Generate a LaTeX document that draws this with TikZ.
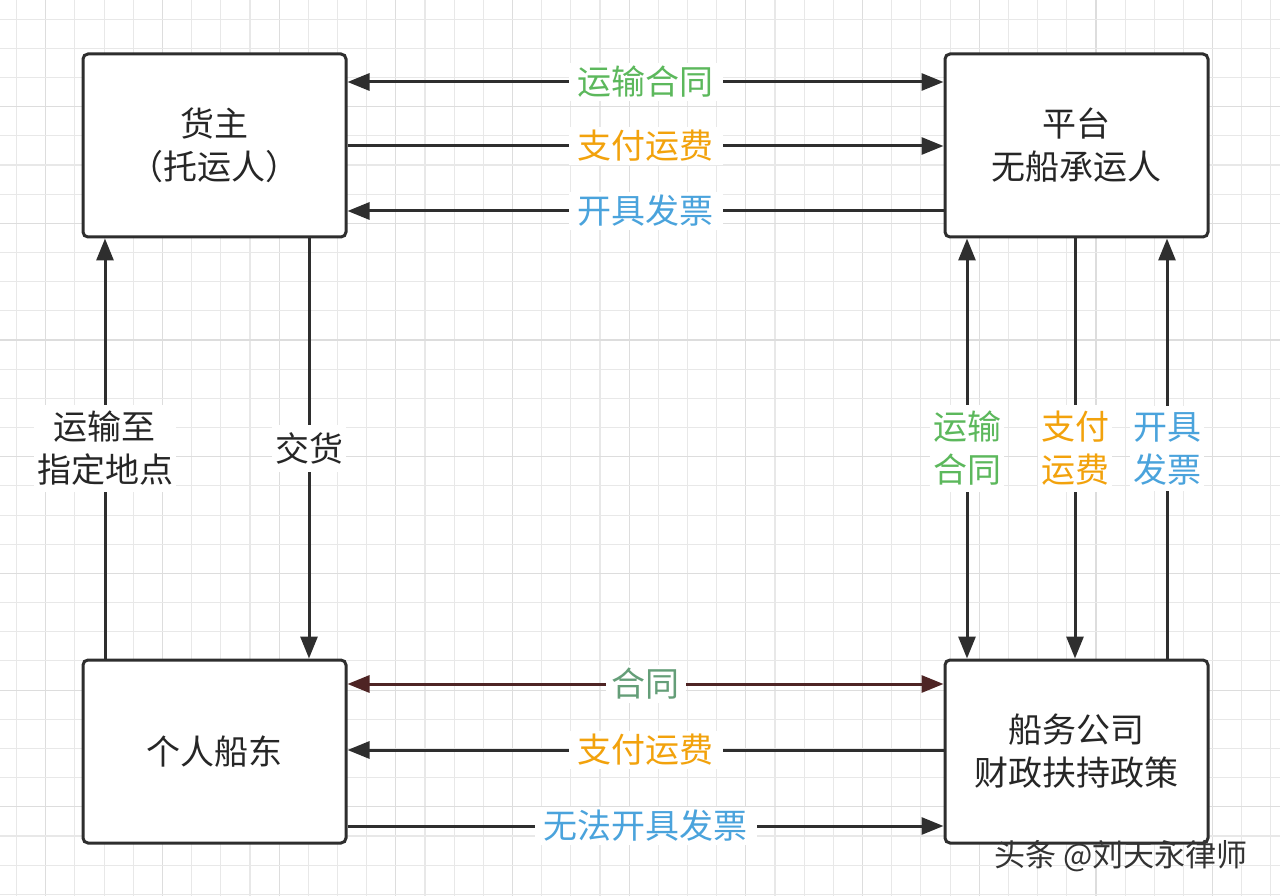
\documentclass[tikz,border=0pt]{standalone}
\usepackage{fontspec}
\setmainfont{Noto Sans CJK SC}
\usetikzlibrary{arrows.meta,calc}
\definecolor{lnc}{HTML}{2E2E2E}
\definecolor{gminor}{HTML}{E8E8E8}
\definecolor{gmajor}{HTML}{DDDDDD}
\definecolor{cgreen}{HTML}{5CB85C}
\definecolor{cgreen2}{HTML}{649E78}
\definecolor{corange}{HTML}{F2A20C}
\definecolor{cblue}{HTML}{4AA3DC}
\definecolor{cred}{HTML}{4E2424}
\tikzset{
  party/.style={draw=lnc, line width=3pt, rounded corners=5pt, fill=white,
    minimum width=263pt, minimum height=183pt, align=center,
    font=\fontsize{34}{43}\selectfont, text=black!85},
  link/.style={draw=lnc, line width=3pt},
  tipr/.style={-{Triangle[length=22pt,width=17pt]}},
  tipl/.style={{Triangle[length=22pt,width=17pt]}-},
  tipb/.style={{Triangle[length=22pt,width=17pt]}-{Triangle[length=22pt,width=17pt]}},
  lbl/.style={fill=white, inner xsep=9pt, inner ysep=3pt, align=center,
    font=\fontsize{34}{43}\selectfont},
}
\begin{document}
\begin{tikzpicture}[x=1pt,y=-1pt]
\useasboundingbox (0,0) rectangle (1280,896);
\fill[white] (0,0) rectangle (1280,896);
% grid
\foreach \i in {0,...,43} {
  \pgfmathtruncatemacro{\m}{mod(\i,4)}
  \ifnum\m=1 \draw[gmajor, line width=1.2pt] ({16.6+\i*29.17},0) -- ++(0,896);
  \else \draw[gminor, line width=1.1pt] ({16.6+\i*29.17},0) -- ++(0,896); \fi
}
\foreach \j in {0,...,30} {
  \pgfmathtruncatemacro{\m}{mod(\j,4)}
  \ifnum\m=3 \draw[gmajor, line width=1.2pt] (0,{19.2+\j*29.17}) -- ++(1280,0);
  \else \draw[gminor, line width=1.1pt] (0,{19.2+\j*29.17}) -- ++(1280,0); \fi
}
% boxes
\node[party] (A) at (214.5,145.5) {货主\\（托运人）};
\node[party] (B) at (1076.5,145.5) {平台\\无船承运人};
\node[party] (C) at (214.5,751.5) {个人船东};
\node[party] (D) at (1076.5,751.5) {船务公司\\财政扶持政策};
% top horizontal
\draw[link,tipb] (A.east |- 0,82) -- node[lbl,text=cgreen] {运输合同} (B.west |- 0,82);
\draw[link,tipr] (A.east |- 0,146) -- node[lbl,text=corange] {支付运费} (B.west |- 0,146);
\draw[link,tipl] (A.east |- 0,211) -- node[lbl,text=cblue] {开具发票} (B.west |- 0,211);
% bottom horizontal
\draw[link,draw=cred,tipb] (C.east |- 0,684) -- node[lbl,text=cgreen2,inner xsep=6pt] {合同} (D.west |- 0,684);
\draw[link,tipl] (C.east |- 0,750) -- node[lbl,text=corange] {支付运费} (D.west |- 0,750);
\draw[link,tipr] (C.east |- 0,826) -- node[lbl,text=cblue] {无法开具发票} (D.west |- 0,826);
% left vertical
\draw[link,tipr] (C.north -| 105,0) -- node[lbl,text=black!85,inner xsep=3pt,inner ysep=6pt] {运输至\\指定地点} (A.south -| 105,0);
\draw[link,tipr] (A.south -| 309,0) -- node[lbl,text=black!85,inner xsep=3pt,inner ysep=8pt] {交货} (C.north -| 309,0);
% right vertical
\draw[link,tipb] (B.south -| 967,0) -- node[lbl,text=cgreen,inner xsep=3pt,inner ysep=6pt] {运输\\合同} (D.north -| 967,0);
\draw[link,tipr] (B.south -| 1075,0) -- node[lbl,text=corange,inner xsep=3pt,inner ysep=6pt] {支付\\运费} (D.north -| 1075,0);
\draw[link,tipr] (D.north -| 1167,0) -- node[lbl,text=cblue,inner xsep=3pt,inner ysep=6pt] {开具\\发票} (B.south -| 1167,0);
% watermark
\node[font=\fontsize{31}{36}\selectfont, text=black!80, anchor=center] (wm) at (1121,856) {头条 @刘天永律师};
\end{tikzpicture}
\end{document}
